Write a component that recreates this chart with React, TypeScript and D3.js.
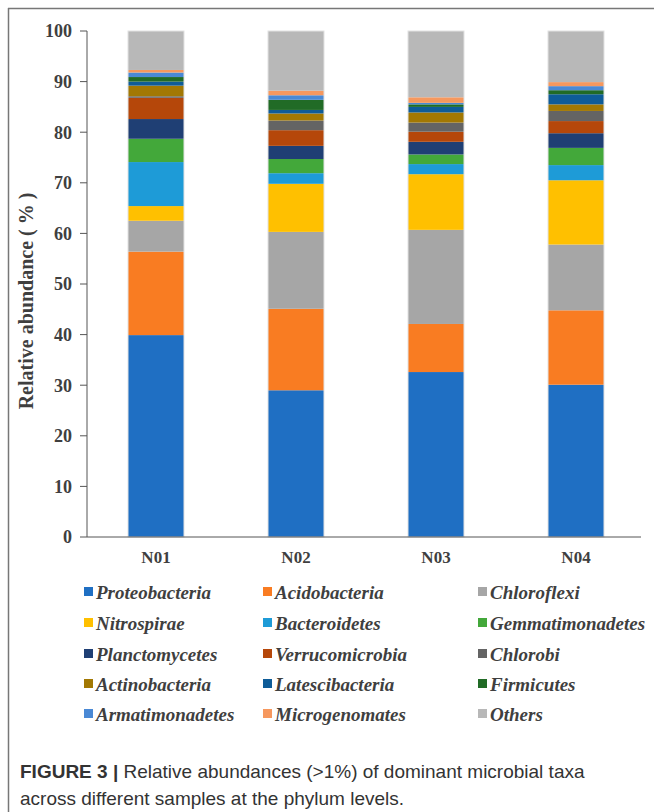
import React from "react";
import * as d3 from "d3";

const samples = ["N01", "N02", "N03", "N04"];
const taxa = [
  "Proteobacteria", "Acidobacteria", "Chloroflexi", "Nitrospirae", "Bacteroidetes",
  "Gemmatimonadetes", "Planctomycetes", "Verrucomicrobia", "Chlorobi", "Actinobacteria",
  "Latescibacteria", "Firmicutes", "Armatimonadetes", "Microgenomates", "Others",
];
const colors = [
  "#1F6FC3", "#F97C22", "#A6A6A6", "#FFC000", "#1E9BD7",
  "#43A83A", "#1F3F74", "#B5470A", "#646464", "#A27803",
  "#0E5C98", "#216B26", "#4A89D5", "#F6985E", "#B8B8B8",
];
const valuesN01 = [39.9, 16.5, 6.1, 2.9, 8.7, 4.6, 3.9, 4.2, 0.3, 2.1, 0.8, 0.9, 0.9, 0.5, 7.7];
const valuesN02 = [29.0, 16.1, 15.2, 9.5, 2.1, 2.8, 2.6, 3.1, 1.9, 1.4, 0.7, 2.0, 0.9, 0.9, 11.8];
const valuesN03 = [32.6, 9.5, 18.6, 11.0, 2.0, 1.9, 2.5, 2.0, 1.8, 2.0, 1.1, 0.5, 0.3, 1.1, 13.1];
const valuesN04 = [30.1, 14.7, 13.0, 12.7, 3.0, 3.4, 2.9, 2.4, 2.0, 1.3, 2.0, 0.8, 0.8, 0.8, 10.1];
const yTicks = [0, 10, 20, 30, 40, 50, 60, 70, 80, 90, 100];

const sampleValues = [valuesN01, valuesN02, valuesN03, valuesN04];

export default function App() {
  const W = 654, H = 812;
  const left = 87, right = 647, top = 31, bottom = 537;
  const x = d3.scaleBand<string>().domain(samples).range([left - 1, right - 1]).paddingInner(0.6).paddingOuter(0.3);
  const y = d3.scaleLinear().domain([0, 100]).range([bottom, top]);

  const table = samples.map((s, i) => {
    const row: Record<string, any> = { sample: s };
    taxa.forEach((t, j) => (row[t] = sampleValues[i][j]));
    return row;
  });
  const stacked = d3.stack<any>().keys(taxa)(table);

  const serif = "'Liberation Serif', 'Times New Roman', serif";
  const sans = "'Liberation Sans', Arial, sans-serif";
  const textCol = "#3f3f3f";

  const legendCols = [84, 263, 478];
  const legendRows = [592, 623, 654, 684, 714];

  return (
    <svg width={W} height={H} style={{ position: "absolute", left: 0, top: 0, background: "#fff" }}>
      <rect x={0} y={0} width={W} height={H} fill="#fff" />
      <line x1={8} y1={8.5} x2={W} y2={8.5} stroke="#777" strokeWidth={1.5} />
      <line x1={8.5} y1={8} x2={8.5} y2={H} stroke="#777" strokeWidth={1.5} />

      {/* bars */}
      {stacked.map((layer, li) => (
        <g key={taxa[li]} fill={colors[li]}>
          {layer.map((d, si) => (
            <rect
              key={samples[si]}
              x={x(samples[si])}
              width={x.bandwidth()}
              y={y(d[1])}
              height={y(d[0]) - y(d[1])}
            />
          ))}
        </g>
      ))}
      {samples.map((s) => (
        <rect key={s} x={x(s)} y={y(100)} width={x.bandwidth()} height={y(0) - y(100)} fill="none" stroke="#e2e2e2" strokeWidth={1} />
      ))}

      {/* axes */}
      <line x1={left} y1={y(0)} x2={left} y2={y(100)} stroke="#555" strokeWidth={1} />
      <line x1={left} y1={y(0)} x2={right - 6} y2={y(0)} stroke="#555" strokeWidth={1} />
      {yTicks.map((t) => (
        <g key={t}>
          <line x1={left - 7} x2={left} y1={y(t)} y2={y(t)} stroke="#555" strokeWidth={1} />
          <text x={left - 15} y={y(t)} dy="0.35em" textAnchor="end" fontFamily={serif} fontWeight="bold" fontSize={18} fill={textCol}>
            {t}
          </text>
        </g>
      ))}
      {samples.map((s) => (
        <text key={s} x={(x(s) as number) + x.bandwidth() / 2} y={563} textAnchor="middle" fontFamily={serif} fontWeight="bold" fontSize={17} fill={textCol}>
          {s}
        </text>
      ))}
      <text
        transform={`translate(33,301) rotate(-90)`}
        textAnchor="middle"
        fontFamily={serif}
        fontWeight="bold"
        fontSize={20}
        fill={textCol}
      >
        Relative abundance ( % )
      </text>

      {/* legend */}
      {taxa.map((t, i) => {
        const cx = legendCols[i % 3];
        const cy = legendRows[Math.floor(i / 3)];
        return (
          <g key={t}>
            <rect x={cx} y={cy - 5} width={9} height={9} fill={colors[i]} />
            <text x={cx + 12} y={cy} dy="0.35em" fontFamily={serif} fontStyle="italic" fontWeight="bold" fontSize={19} fill={textCol}>
              {t}
            </text>
          </g>
        );
      })}

      {/* caption */}
      <text x={20} y={778} fontFamily={sans} fontSize={19} fill="#333">
        <tspan fontWeight="bold">FIGURE 3 |</tspan>
        <tspan> Relative abundances (&gt;1%) of dominant microbial taxa</tspan>
      </text>
      <text x={20} y={805} fontFamily={sans} fontSize={19} fill="#333">
        across different samples at the phylum levels.
      </text>
    </svg>
  );
}
